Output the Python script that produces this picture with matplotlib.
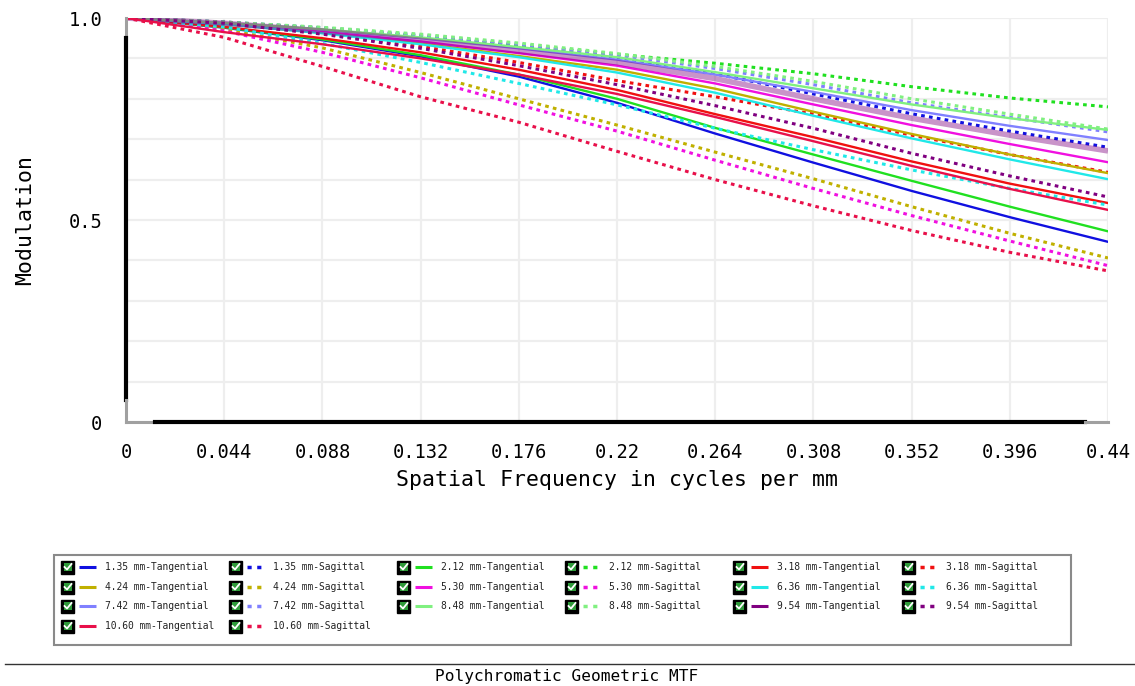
import numpy as np
import matplotlib
matplotlib.use("Agg")
import matplotlib.pyplot as plt
from matplotlib.patches import Rectangle

plt.rcParams['font.family'] = ['DejaVu Sans Mono']

# spatial frequency samples (cycles/mm)
freq = [0, 0.044, 0.088, 0.132, 0.176, 0.22, 0.264, 0.308, 0.352, 0.396, 0.44]

# MTF per field height, tangential (T) and sagittal (S)
t_135 = [1, 0.976, 0.945, 0.905, 0.855, 0.790, 0.714, 0.642, 0.572, 0.507, 0.446]
s_135 = [1, 0.990, 0.975, 0.955, 0.930, 0.900, 0.862, 0.812, 0.763, 0.720, 0.680]
t_212 = [1, 0.977, 0.947, 0.908, 0.860, 0.800, 0.728, 0.662, 0.597, 0.533, 0.472]
s_212 = [1, 0.990, 0.975, 0.955, 0.932, 0.910, 0.888, 0.862, 0.830, 0.802, 0.780]
t_318 = [1, 0.978, 0.950, 0.915, 0.872, 0.822, 0.762, 0.705, 0.645, 0.590, 0.542]
s_318 = [1, 0.986, 0.962, 0.930, 0.890, 0.845, 0.805, 0.762, 0.710, 0.662, 0.618]
t_424 = [1, 0.985, 0.963, 0.937, 0.906, 0.872, 0.825, 0.768, 0.713, 0.662, 0.616]
s_424 = [1, 0.972, 0.926, 0.865, 0.800, 0.735, 0.668, 0.602, 0.533, 0.467, 0.406]
t_530 = [1, 0.986, 0.966, 0.942, 0.913, 0.882, 0.838, 0.786, 0.735, 0.688, 0.643]
s_530 = [1, 0.968, 0.915, 0.852, 0.785, 0.720, 0.648, 0.578, 0.511, 0.448, 0.387]
t_636 = [1, 0.985, 0.962, 0.935, 0.903, 0.865, 0.815, 0.758, 0.702, 0.650, 0.601]
s_636 = [1, 0.978, 0.937, 0.890, 0.838, 0.785, 0.727, 0.674, 0.624, 0.578, 0.537]
t_742 = [1, 0.988, 0.971, 0.950, 0.925, 0.897, 0.860, 0.817, 0.772, 0.733, 0.698]
s_742 = [1, 0.990, 0.976, 0.958, 0.935, 0.908, 0.875, 0.835, 0.790, 0.754, 0.718]
t_848 = [1, 0.988, 0.972, 0.952, 0.928, 0.903, 0.866, 0.826, 0.786, 0.752, 0.723]
s_848 = [1, 0.990, 0.977, 0.960, 0.938, 0.912, 0.880, 0.843, 0.800, 0.762, 0.725]
t_954 = [1, 0.987, 0.968, 0.945, 0.918, 0.890, 0.850, 0.800, 0.752, 0.710, 0.671]
s_954 = [1, 0.987, 0.960, 0.925, 0.882, 0.835, 0.783, 0.727, 0.665, 0.609, 0.557]
t_1060 = [1, 0.965, 0.935, 0.900, 0.860, 0.812, 0.755, 0.695, 0.634, 0.577, 0.525]
s_1060 = [1, 0.952, 0.880, 0.805, 0.742, 0.670, 0.600, 0.535, 0.474, 0.420, 0.374]

fields = ["1.35", "2.12", "3.18", "4.24", "5.30", "6.36", "7.42", "8.48", "9.54", "10.60"]
field_colors = ["#1010e0", "#20e020", "#f01010", "#c0b000", "#f010e0",
                "#20e8e8", "#8080ff", "#80f080", "#800080", "#e8104a"]
tang = [t_135, t_212, t_318, t_424, t_530, t_636, t_742, t_848, t_954, t_1060]
sag = [s_135, s_212, s_318, s_424, s_530, s_636, s_742, s_848, s_954, s_1060]

fig = plt.figure(figsize=(11.35, 6.86), dpi=100)
ax = fig.add_axes([126 / 1135, 1 - 422 / 686, 982 / 1135, 404 / 686])

dot = (0, (1.2, 1.4))
for name, col, t, s in zip(fields, field_colors, tang, sag):
    if name == "9.54":
        ax.plot(freq, t, color=col, lw=4, alpha=0.42, solid_capstyle='butt', zorder=3)
    else:
        ax.plot(freq, t, color=col, lw=1.7, zorder=3)
    ax.plot(freq, s, color=col, lw=2.2, linestyle=dot, dash_capstyle='butt', zorder=3)

ax.set_xlim(0, 0.44)
ax.set_ylim(0, 1.0)
xt = np.arange(11) * 0.044
ax.set_xticks(xt)
ax.set_xticklabels(["0", "0.044", "0.088", "0.132", "0.176", "0.22",
                    "0.264", "0.308", "0.352", "0.396", "0.44"], fontsize=13.5)
ax.set_yticks(np.arange(11) * 0.1)
ax.set_yticklabels(["0", "", "", "", "", "0.5", "", "", "", "", "1.0"], fontsize=13.5)
ax.tick_params(length=0)
ax.tick_params(axis='x', pad=15)
ax.tick_params(axis='y', pad=17)
ax.grid(True, color='#eeeeee', lw=1.6)
ax.set_axisbelow(True)
for sp in ax.spines.values():
    sp.set_visible(False)

# broken spines: gray ends, black middle
ax.plot([0, 0], [0.95, 1.0], color='#a0a0a0', lw=2.2, clip_on=False, zorder=5)
ax.plot([0, 0], [0.055, 0.95], color='black', lw=3, clip_on=False, zorder=5)
ax.plot([0, 0], [0, 0.055], color='#a0a0a0', lw=2.2, clip_on=False, zorder=5)
ax.plot([0, 0.013], [0, 0], color='#a0a0a0', lw=2.2, clip_on=False, zorder=5)
ax.plot([0.013, 0.4295], [0, 0], color='black', lw=3, clip_on=False, zorder=5)
ax.plot([0.4295, 0.44], [0, 0], color='#a0a0a0', lw=2.2, clip_on=False, zorder=5)

ax.set_xlabel("Spatial Frequency in cycles per mm", fontsize=15.5, labelpad=6)
ax.set_ylabel("Modulation", fontsize=15.5, labelpad=24)

# legend panel drawn in pixel coordinates
lg = fig.add_axes([0, 0, 1, 1], zorder=-1)
lg.set_xlim(0, 1135)
lg.set_ylim(686, 0)
lg.axis('off')

lg.add_patch(Rectangle((54, 555), 1017, 90, fill=False, ec='#8a8a8a', lw=1.5))
lg.plot([5, 1135], [664, 664], color='#333333', lw=1)
lg.text(567, 677, "Polychromatic Geometric MTF", fontsize=11.6, ha='center', va='center')

col_x = [61, 229, 397, 565, 733, 902]
row_y = [567, 587, 606, 626]
entries = []
for name, col in zip(fields, field_colors):
    entries.append((name + " mm-Tangential", col, '-'))
    entries.append((name + " mm-Sagittal", col, ':'))

for i, (label, col, ls) in enumerate(entries):
    x0 = col_x[i % 6]
    y0 = row_y[i // 6]
    lg.add_patch(Rectangle((x0, y0 - 6.5), 13, 13, fc='black', ec='black'))
    lg.add_patch(Rectangle((x0 + 2.5, y0 - 4), 8, 8, fc='#2f9a3a', ec='none'))
    lg.plot([x0 + 3.5, x0 + 6, x0 + 10.5], [y0, y0 + 2.5, y0 - 3], color='#ffffff', lw=1.3)
    if ls == '-':
        lg.plot([x0 + 18, x0 + 35], [y0, y0], color=col, lw=2.2, solid_capstyle='butt')
    else:
        lg.plot([x0 + 18, x0 + 35], [y0, y0], color=col, lw=2.5, linestyle=(0, (1.2, 1.6)),
                dash_capstyle='butt')
    lg.text(x0 + 44, y0, label, fontsize=6.9, va='center', ha='left', color='#222222')

fig.savefig("out.png", dpi=100)
